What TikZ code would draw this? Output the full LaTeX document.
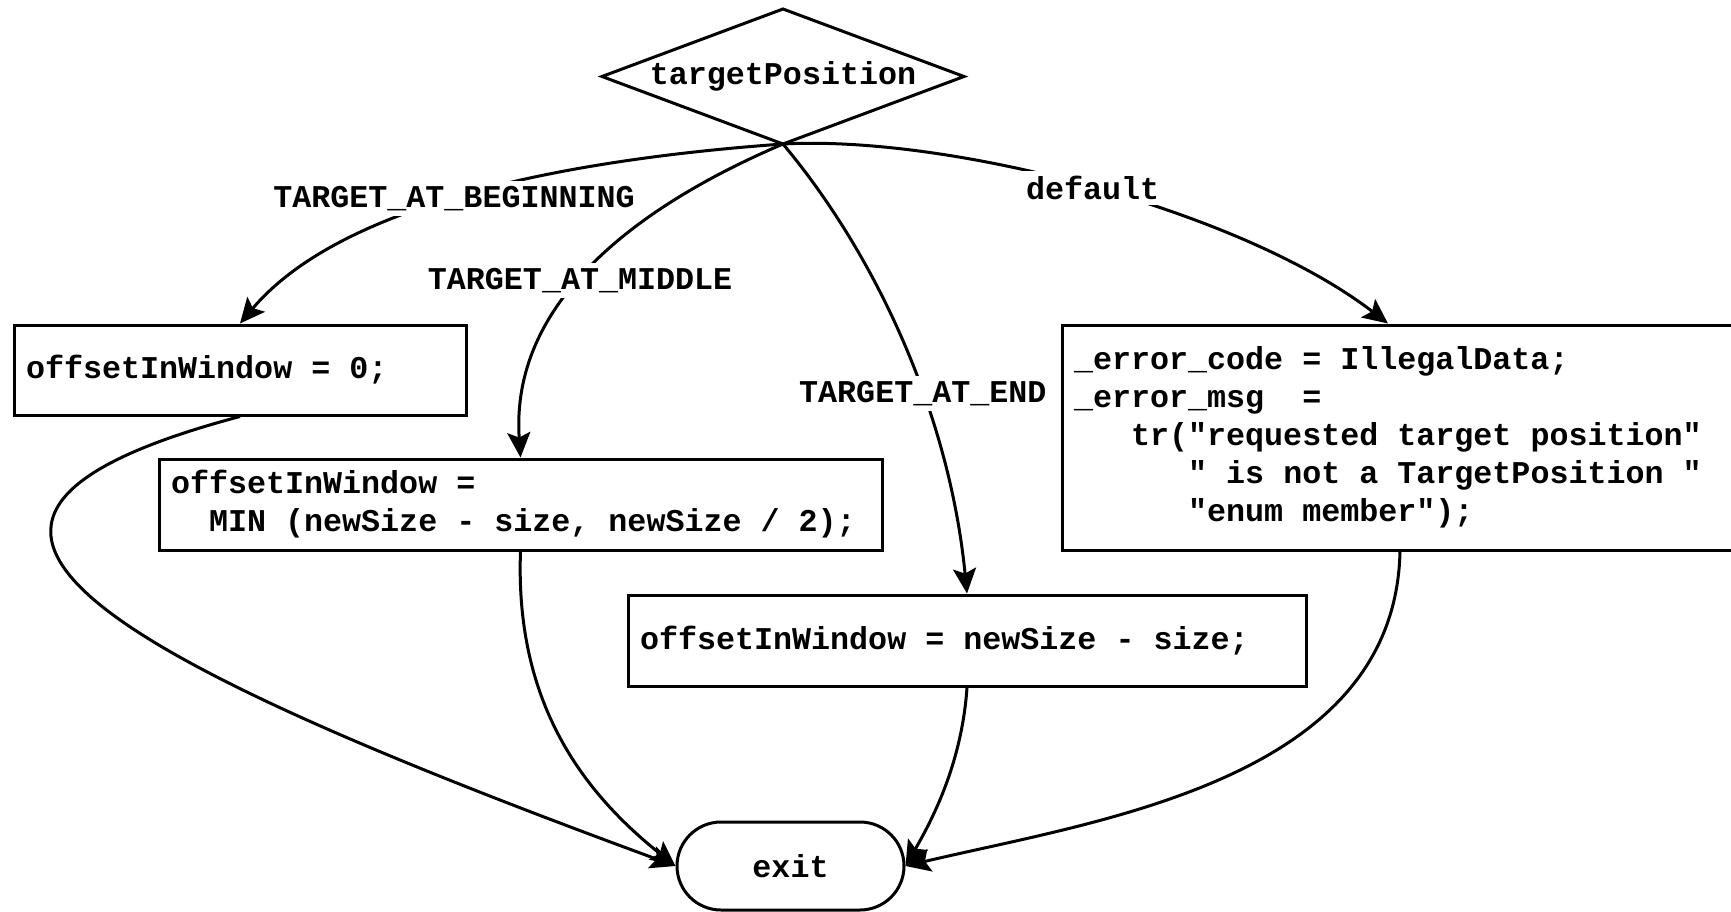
\documentclass[tikz,border=0pt]{standalone}
\usepackage{fontspec}
\setmonofont{Liberation Mono}
\usetikzlibrary{shapes.geometric,shapes.misc,arrows.meta}
% bold monospaced code face with fixed-width word spaces
\newcommand{\codeface}{\ttfamily\bfseries\fontsize{31.7}{38}\selectfont}
\newcommand{\fixedspaces}{\spaceskip=0.6em\relax\xspaceskip=0.6em\relax}
\begin{document}
\begin{tikzpicture}[x=1pt,y=-1pt,
  every node/.style={font=\codeface,execute at begin node=\fixedspaces},
  flow/.style={line width=3pt,-{Stealth[length=25pt,width=23pt,inset=5pt]}},
  stmt/.style={draw,line width=3pt,align=left,inner xsep=12pt,inner ysep=0pt},
  decision/.style={draw,diamond,aspect=2.68,line width=3pt,inner sep=0pt,outer sep=0pt,
                   minimum width=362pt,minimum height=135pt},
  terminal/.style={draw,rounded rectangle,line width=3pt,inner sep=0pt,
                   minimum width=227pt,minimum height=88pt},
  lbl/.style={fill=white,inner sep=5pt}]
\useasboundingbox (0,0) rectangle (1731,912);
\clip (0,0) rectangle (1731,912);

% switch and its branches
\node[decision] (dec) at (783,76.5) {targetPosition};

\node[stmt,text width=428pt,minimum height=90pt] (b1) at (240,370) {offsetInWindow = 0;};
\node[stmt,text width=699pt,minimum height=91pt] (b2) at (520.5,504.5)
  {offsetInWindow =\\\phantom{xx}MIN (newSize - size, newSize / 2);};
\node[stmt,text width=654pt,minimum height=91pt] (b3) at (967,640.5)
  {offsetInWindow = newSize - size;};
\node[stmt,text width=664pt,minimum height=225pt] (b4) at (1406,437.5)
  {\_error\_code = IllegalData;\\
   \_error\_msg\ \ =\\
   \phantom{xxx}tr("requested target position"\\
   \phantom{xxxxxx}" is not a TargetPosition "\\
   \phantom{xxxxxx}"enum member");};

\node[terminal] (ex) at (790.5,866) {exit};

% case edges
\draw[flow] (dec.south) .. controls (560,160) and (340,205) .. (b1.north)
  node[lbl,pos=0.52] (l1) {TARGET\_AT\_BEGINNING};
\draw[flow] (dec.south) .. controls (640,205) and (510,300) .. (b2.north)
  node[lbl,pos=0.55] (l2) {TARGET\_AT\_MIDDLE};
\draw[flow] (dec.south) .. controls (880,260) and (950,420) .. (b3.north)
  node[lbl,pos=0.6] (l3) {TARGET\_AT\_END};
\draw[flow] (dec.south) .. controls (950,135) and (1240,210) .. ([xshift=-18pt]b4.north)
  node[lbl,pos=0.5] (l4) {default};

% edges into exit
\draw[flow] (b1.south) .. controls (-130,515) and (60,640) .. (ex.west);
\draw[flow] (b2.south) .. controls (515,700) and (580,790) .. (ex.west);
\draw[flow] (b3.south) .. controls (962,760) and (935,815) .. (ex.east);
\draw[flow] ([xshift=-6pt]b4.south) .. controls (1395,780) and (1100,820) .. (ex.east);
\end{tikzpicture}
\end{document}
